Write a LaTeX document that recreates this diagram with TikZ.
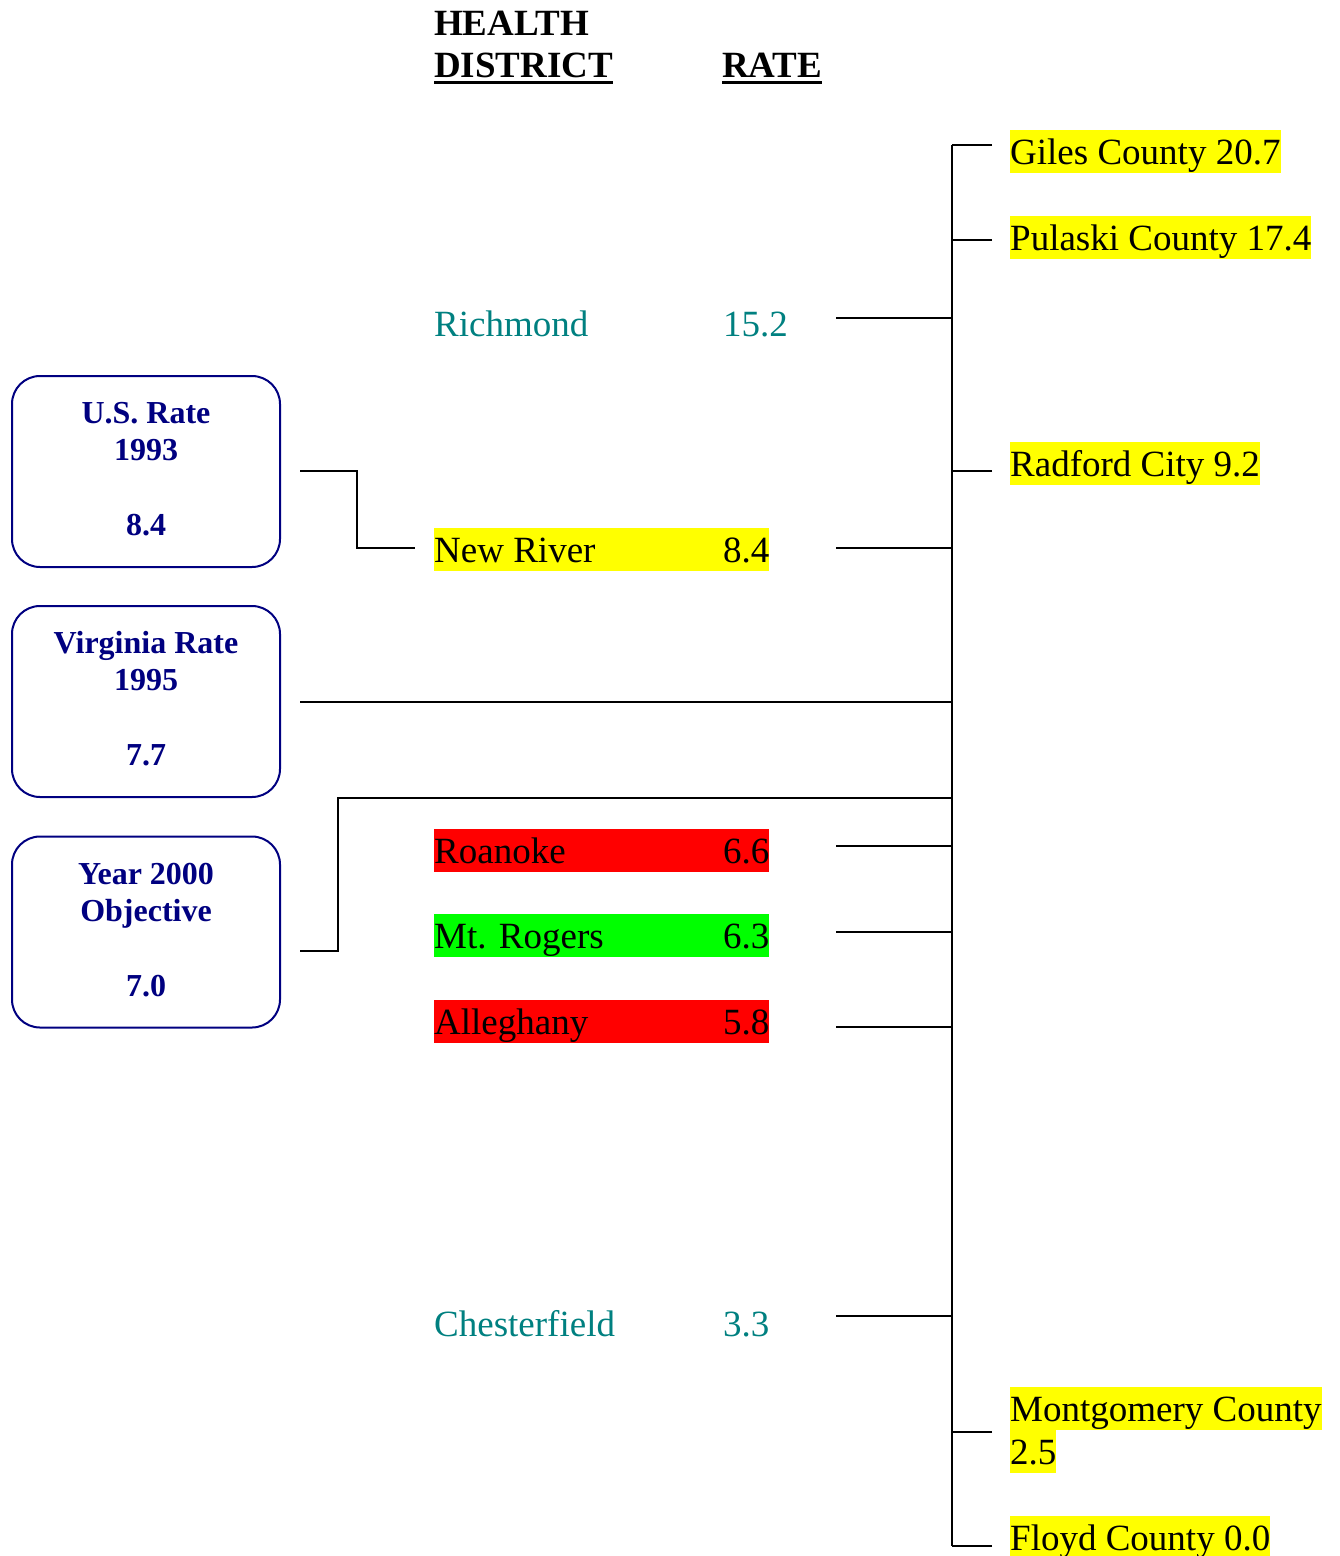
\documentclass[tikz,border=0pt]{standalone}
\usepackage{fontspec}
\setmainfont{Liberation Serif}
\definecolor{navy}{RGB}{0,0,128}
\definecolor{tealc}{RGB}{0,128,128}
\definecolor{hyel}{RGB}{255,255,0}
\definecolor{hred}{RGB}{255,0,0}
\definecolor{hgrn}{RGB}{0,255,0}
\tikzset{
  lab/.style={inner sep=0pt, anchor=base west, font=\fontsize{37}{43}\selectfont},
  hl/.style={lab, text height=31pt, text depth=6pt, minimum height=43pt},
  hdr/.style={inner sep=0pt, anchor=base west, font=\fontsize{37}{42}\selectfont\bfseries},
  sbox/.style={draw=navy, line width=2pt, rounded corners=28pt, minimum width=268pt, minimum height=191pt, inner sep=0pt},
  btxt/.style={inner sep=0pt, anchor=base, text=navy, font=\fontsize{32}{37}\selectfont\bfseries},
  conn/.style={draw=black, line width=2pt},
}
\newcommand{\rowtxt}[2]{\makebox[289pt][l]{#1}#2}
\begin{document}
\begin{tikzpicture}[x=1pt,y=-1pt]
\useasboundingbox (0,0) rectangle (1340,1556);
% headers
\node[hdr] (hd1) at (434,35) {HEALTH};
\node[hdr] (hd2) at (434,77) {DISTRICT};
\node[hdr] (hdr) at (722,77) {RATE};
\draw[line width=3pt] ([yshift=-5.5pt]hd2.base west) -- ([yshift=-5.5pt]hd2.base east);
\draw[line width=3pt] ([yshift=-5.5pt]hdr.base west) -- ([yshift=-5.5pt]hdr.base east);
% left boxes
\node[sbox] (us) at (146,471.5) {};
\node[btxt] (us1) at (146,423) {U.S. Rate};
\node[btxt] (us2) at (146,460) {1993};
\node[btxt] (us3) at (146,535) {8.4};
\node[sbox] (va) at (146,701.5) {};
\node[btxt] (va1) at (146,653) {Virginia Rate};
\node[btxt] (va2) at (146,690) {1995};
\node[btxt] (va3) at (146,765) {7.7};
\node[sbox] (yr) at (146,932) {};
\node[btxt] (yr1) at (146,884) {Year 2000};
\node[btxt] (yr2) at (146,921) {Objective};
\node[btxt] (yr3) at (146,996) {7.0};
% district rows
\node[lab, text=tealc] (rich) at (434,336) {\rowtxt{Richmond}{15.2}};
\node[hl, fill=hyel] (nr) at (434,562) {\rowtxt{New River}{8.4}};
\node[hl, fill=hred] (roa) at (434,863) {\rowtxt{Roanoke}{6.6}};
\node[hl, fill=hgrn] (mtr) at (434,948) {\rowtxt{Mt. Rogers}{6.3}};
\node[hl, fill=hred] (all) at (434,1034) {\rowtxt{Alleghany}{5.8}};
\node[lab, text=tealc] (ches) at (434,1336) {\rowtxt{Chesterfield}{3.3}};
% right labels
\node[hl, fill=hyel] (giles) at (1010,164) {Giles County 20.7};
\node[hl, fill=hyel] (pul) at (1010,250) {Pulaski County 17.4};
\node[hl, fill=hyel] (rad) at (1010,476) {Radford City 9.2};
\node[hl, fill=hyel] (mont) at (1010,1421) {Montgomery County};
\node[hl, fill=hyel] (mont2) at (1010,1464) {2.5};
\node[hl, fill=hyel] (floyd) at (1010,1550) {Floyd County 0.0};
% trunk
\coordinate (trT) at (952,145);
\coordinate (trB) at (952,1546);
\draw[conn] (trT) -- (trB);
% right branches
\coordinate (gilesL) at (992,145);
\coordinate (pulL) at (992,240);
\coordinate (radL) at (992,471);
\coordinate (montL) at (992,1432);
\coordinate (floydL) at (992,1546);
\foreach \c in {gilesL,pulL,radL,montL,floydL}
  \draw[conn] (\c) -- (\c -| trT);
% district branches
\coordinate (richR) at (836,318);
\coordinate (nrR) at (836,548);
\coordinate (roaR) at (836,846);
\coordinate (mtrR) at (836,932);
\coordinate (allR) at (836,1027);
\coordinate (chesR) at (836,1316);
\foreach \c in {richR,nrR,roaR,mtrR,allR,chesR}
  \draw[conn] (\c) -- (\c -| trT);
% left box connectors
\coordinate (usC) at (300,471);
\coordinate (nrL) at (415,548);
\draw[conn] (usC) -- ++(57,0) |- (nrL);
\coordinate (vaC) at (300,702);
\draw[conn] (vaC) -- (vaC -| trT);
\coordinate (yrC) at (300,951);
\coordinate (yrT) at (952,798);
\draw[conn] (yrC) -- ++(38,0) |- (yrT);
\end{tikzpicture}
\end{document}
